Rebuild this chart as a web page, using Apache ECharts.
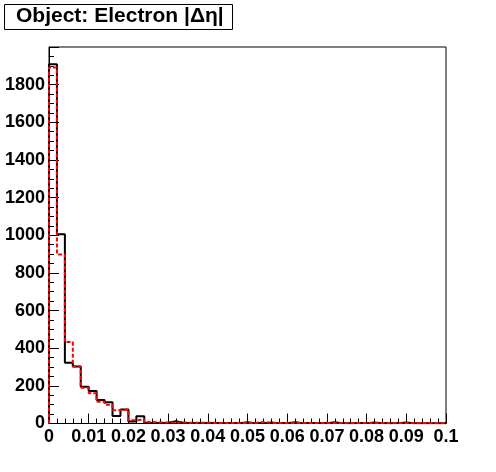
<!DOCTYPE html>
<html>
<head>
<meta charset="utf-8">
<script src="https://cdn.jsdelivr.net/npm/echarts@6/dist/echarts.min.js"></script>
<style>
html,body{margin:0;padding:0;background:#fff;}
#chart{width:496px;height:472px;}
</style>
</head>
<body>
<div id="chart"></div>
<script>
// Histogram: |Δη| from 0 to 0.1 in 50 bins of width 0.002
var binWidth = 0.002;
var xMin = 0, xMax = 0.1;
var blackCounts = [1908, 1005, 323, 303, 195, 172, 125, 113, 40, 74,
                   10, 38, 3, 3, 4, 12, 3, 2, 2, 3,
                   2, 2, 2, 2, 6, 2, 2, 5, 2, 2,
                   6, 2, 2, 2, 2, 6, 2, 1, 2, 2,
                   5, 2, 1, 2, 5, 1, 1, 1, 1, 1];
var redCounts = [1891, 898, 433, 303, 190, 161, 115, 100, 70, 74,
                 17, 22, 8, 5, 5, 6, 5, 4, 4, 4,
                 3, 3, 3, 3, 3, 3, 8, 3, 3, 3,
                 3, 3, 3, 3, 3, 3, 3, 3, 3, 3,
                 3, 3, 3, 3, 3, 3, 3, 3, 3, 3];
var xTickLabels = ['0','0.01','0.02','0.03','0.04','0.05','0.06','0.07','0.08','0.09','0.1'];
var yTickLabels = ['0','200','400','600','800','1000','1200','1400','1600','1800'];
var titleText = 'Object: Electron |Δη|';

function stepData(counts){
  var d = [[xMin, 0]];
  for (var i = 0; i < counts.length; i++) d.push([xMin + i * binWidth, counts[i]]);
  d.push([xMin + counts.length * binWidth, counts[counts.length - 1]]);
  d.push([xMin + counts.length * binWidth, 0]);
  return d;
}

var FONT = 'Liberation Sans';
var chart = echarts.init(document.getElementById('chart'), null, {renderer:'canvas'});
chart.setOption({
  animation: false,
  backgroundColor: '#fff',
  grid: {left: 49, right: 50, top: 47, bottom: 48.5, show: true, borderColor: '#000', borderWidth: 1},
  xAxis: {
    type: 'value', min: xMin, max: xMax, interval: 0.01,
    axisLine: {show: true, onZero: false, lineStyle: {color: '#000', width: 1}},
    axisTick: {show: true, inside: true, length: 10, lineStyle: {color: '#000', width: 1}},
    minorTick: {show: true, splitNumber: 5, length: 5, lineStyle: {color: '#000', width: 1}},
    splitLine: {show: false},
    axisLabel: {
      show: true, margin: 5, color: '#000', fontFamily: FONT, fontWeight: 'bold', fontSize: 18,
      formatter: function(v){ var i = Math.round(v / 0.01); return xTickLabels[i] !== undefined ? xTickLabels[i] : ''; }
    }
  },
  yAxis: {
    type: 'value', min: 0, max: 2000, interval: 200,
    axisLine: {show: true, lineStyle: {color: '#000', width: 1}},
    axisTick: {show: true, inside: true, length: 10, lineStyle: {color: '#000', width: 1}},
    minorTick: {show: true, splitNumber: 4, length: 5, lineStyle: {color: '#000', width: 1}},
    splitLine: {show: false},
    axisLabel: {
      show: true, margin: 4, color: '#000', fontFamily: FONT, fontWeight: 'bold', fontSize: 18,
      formatter: function(v){ var i = Math.round(v / 200); return yTickLabels[i] !== undefined ? yTickLabels[i] : ''; }
    }
  },
  series: [
    {
      type: 'line', step: 'end', data: stepData(blackCounts), symbol: 'none',
      lineStyle: {color: '#000', width: 2}, z: 3
    },
    {
      type: 'line', step: 'end', data: stepData(redCounts), symbol: 'none',
      lineStyle: {color: '#ff0000', width: 2, type: [4, 2]}, z: 4
    }
  ],
  graphic: [
    {type: 'rect', left: 4, top: 4, shape: {width: 228, height: 25}, style: {fill: '#fff', stroke: '#000', lineWidth: 1}},
    {type: 'text', left: 16, top: 6, style: {text: titleText, font: 'bold 21px "Liberation Sans"', fill: '#000'}}
  ]
});
</script>
</body>
</html>
